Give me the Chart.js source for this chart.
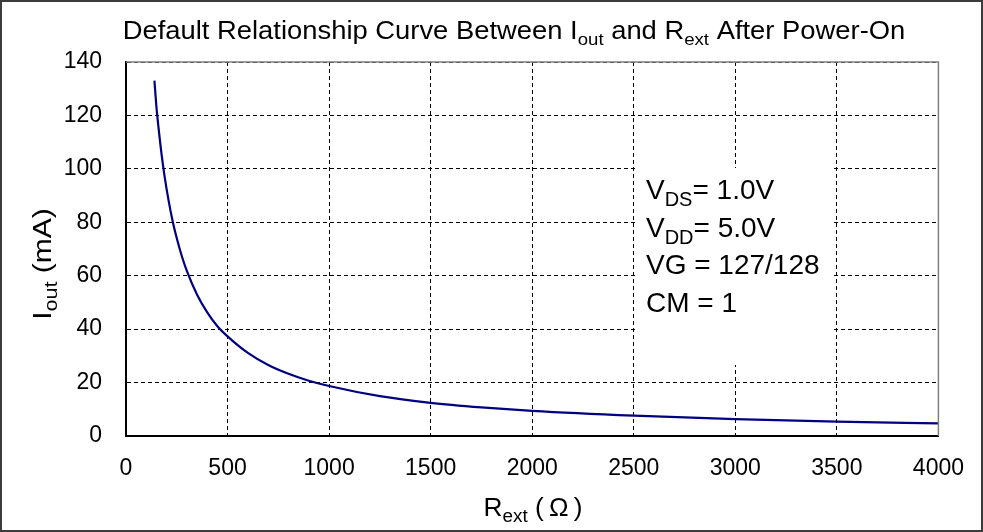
<!DOCTYPE html>
<html>
<head>
<meta charset="utf-8">
<script src="https://cdn.jsdelivr.net/npm/chart.js@4/dist/chart.umd.min.js"></script>
<style>
    html, body { margin: 0; padding: 0; background: #fff; }
    #wrap { position: relative; width: 983px; height: 532px; box-sizing: border-box; border: 2px solid #3c3c3c; }
    canvas { position: absolute; left: -2px; top: -2px; }
</style>
</head>
<body>
<div id="wrap"><canvas id="iout-chart" width="983" height="532"></canvas></div>
<script>
// data
var rextValues = [140, 150, 160, 175, 190, 210, 230, 250, 275, 300, 350, 400, 450, 500, 600, 700, 800, 900, 1000, 1250, 1500, 1750, 2000, 2500, 3000, 3500, 4000];
var ioutValues = [133, 123, 115.5, 105.5, 97.2, 88, 80.3, 74, 67.3, 61.7, 52.9, 46.3, 41.1, 37.3, 31.1, 26.6, 23.3, 20.7, 18.7, 14.9, 12.4, 10.7, 9.4, 7.6, 6.3, 5.4, 4.7];
var xTicks = [0, 500, 1000, 1500, 2000, 2500, 3000, 3500, 4000];
var yTicks = [0, 20, 40, 60, 80, 100, 120, 140];
var noteLines = [
    [["V", false], ["DS", true], ["= 1.0V", false]],
    [["V", false], ["DD", true], ["= 5.0V", false]],
    [["VG = 127/128", false]],
    [["CM = 1", false]]
];

var FONT = "'Liberation Sans', Arial, sans-serif";

// draws text pieces, some of them as subscripts
function drawRich(ctx, parts, x, y, size, align, subSize) {
    subSize = subSize || Math.round(size * 0.68);
    var total = 0;
    for (var i = 0; i < parts.length; i++) {
        ctx.font = (parts[i][1] ? subSize : size) + "px " + FONT;
        total += ctx.measureText(parts[i][0]).width;
    }
    var cx = x;
    if (align === "center") cx = x - total / 2;
    ctx.textBaseline = "alphabetic";
    ctx.textAlign = "left";
    for (var j = 0; j < parts.length; j++) {
        ctx.font = (parts[j][1] ? subSize : size) + "px " + FONT;
        ctx.fillText(parts[j][0], cx, parts[j][1] ? y + size * 0.25 : y);
        cx += ctx.measureText(parts[j][0]).width;
    }
}

var textPlugin = {
    id: "texts",
    beforeDatasetsDraw: function (chart) {
        // white box behind the note text hides the grid there
        var ctx = chart.ctx;
        ctx.save();
        ctx.fillStyle = "#fff";
        ctx.fillRect(638, 168, 195, 197);
        ctx.restore();
    },
    afterDraw: function (chart) {
        var ctx = chart.ctx;
        var area = chart.chartArea;
        ctx.save();
        ctx.fillStyle = "#000";

        // plot frame on top and right
        ctx.strokeStyle = "#808080";
        ctx.lineWidth = 1.5;
        ctx.beginPath();
        ctx.moveTo(area.left, area.top);
        ctx.lineTo(area.right, area.top);
        ctx.lineTo(area.right, area.bottom);
        ctx.stroke();

        ctx.save();
        ctx.translate(514, 39);
        ctx.scale(1.095, 1);
        drawRich(ctx, [["Default Relationship Curve Between I", false], ["out", true], [" and R", false], ["ext", true], [" After Power-On", false]], 0, 0, 25, "center", 17);
        ctx.restore();

        ctx.save();
        ctx.translate(533, 516);
        ctx.scale(1.05, 1);
        drawRich(ctx, [["R", false], ["ext", true], [" (\u2009\u03A9\u2009)", false]], 0, 0, 25, "center", 18);
        ctx.restore();

        ctx.save();
        ctx.translate(51, 264);
        ctx.rotate(-Math.PI / 2);
        ctx.scale(1.2, 1);
        drawRich(ctx, [["I", false], ["out", true], [" (mA)", false]], 0, 0, 25, "center", 18);
        ctx.restore();

        for (var i = 0; i < noteLines.length; i++) {
            drawRich(ctx, noteLines[i], 646, 199 + i * 37.5, 28, "left", 20);
        }
        ctx.restore();
    }
};

function BuildChart() {
    var ctx = document.getElementById("iout-chart");
    var points = [];
    for (var i = 0; i < rextValues.length; i++) {
        points.push({ x: rextValues[i], y: ioutValues[i] });
    }

    new Chart(ctx, {
        type: "line",
        data: {
            datasets: [{
                data: points,
                borderColor: "#000080",
                borderWidth: 2.2,
                pointRadius: 0,
                cubicInterpolationMode: "monotone",
                fill: false
            }]
        },
        options: {
            responsive: false,
            animation: false,
            layout: { padding: { top: 62, right: 38, left: 0, bottom: 0 } },
            plugins: {
                legend: { display: false },
                tooltip: { enabled: false }
            },
            scales: {
                x: {
                    type: "linear",
                    min: 0,
                    max: 4000,
                    afterBuildTicks: function (scale) {
                        scale.ticks = xTicks.map(function (v) { return { value: v }; });
                    },
                    afterFit: function (scale) { scale.height = 96; },
                    ticks: {
                        color: "#000",
                        padding: 19,
                        maxRotation: 0,
                        font: { family: FONT, size: 23 },
                        callback: function (v) { return String(v); }
                    },
                    grid: { color: "#000", lineWidth: 1, drawTicks: false },
                    border: { display: true, color: "#000", width: 2, dash: [4, 3] }
                },
                y: {
                    type: "linear",
                    min: 0,
                    max: 140,
                    afterBuildTicks: function (scale) {
                        scale.ticks = yTicks.map(function (v) { return { value: v }; });
                    },
                    afterFit: function (scale) { scale.width = 126; },
                    ticks: {
                        color: "#000",
                        padding: 24,
                        font: { family: FONT, size: 23 },
                        callback: function (v) { return String(v); }
                    },
                    grid: { color: "#000", lineWidth: 1, drawTicks: false },
                    border: { display: true, color: "#000", width: 2, dash: [4, 3] }
                }
            }
        },
        plugins: [textPlugin]
    });
}

BuildChart();
</script>
</body>
</html>
